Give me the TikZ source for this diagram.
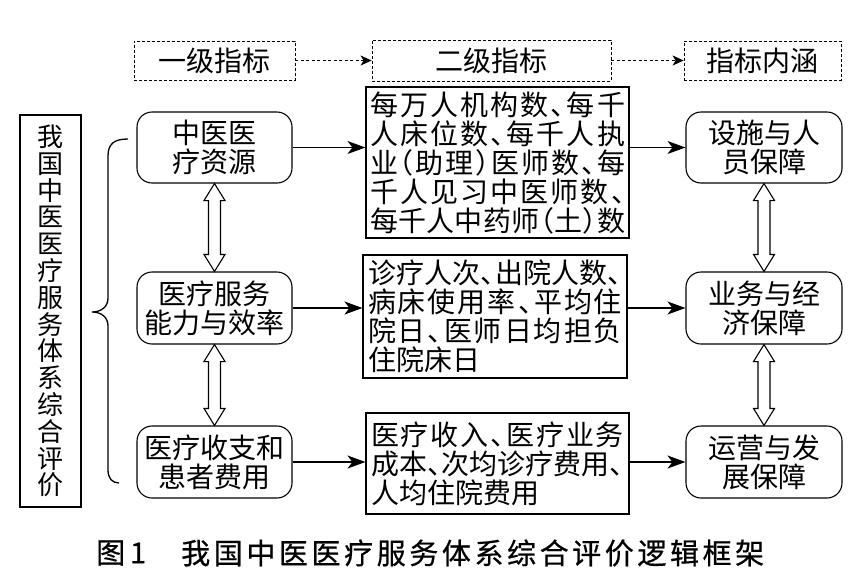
\documentclass[tikz,border=0pt]{standalone}
\usepackage{fontspec}
\usetikzlibrary{arrows.meta,calc}
\newfontfamily\cjk{Noto Sans CJK SC}
\newfontfamily\cjkcap{Noto Sans CJK SC}[FakeBold=0.6]
% half-width punctuation
\newcommand\dun{\makebox[0.5em][l]{、}}
\newcommand\lpar{\makebox[0.5em][r]{（}}
\newcommand\rpar{\makebox[0.5em][l]{）}}
% justify a line of CJK characters to a given width
\def\jfyEnd{JFYEND}
\newcommand\jfy[2]{\makebox[#1][s]{\jfyA#2\jfyEnd}}
\def\jfyA#1{#1\futurelet\jfyNext\jfyB}
\def\jfyB{\ifx\jfyNext\jfyEnd\expandafter\jfyStop\else\hfil\expandafter\jfyA\fi}
\def\jfyStop\jfyEnd{}
\tikzset{
  every node/.style={font=\cjk\fontsize{28}{29}\selectfont, inner sep=0pt},
  dashbox/.style={draw, densely dashed, line width=0.8pt, minimum height=39pt},
  roundbox/.style={draw, line width=1.1pt, rounded corners=15pt, minimum width=155pt, minimum height=71pt, align=center},
  midbox/.style={draw, line width=1.1pt, align=left},
  arr/.style={line width=1.1pt, -{Stealth[length=18pt,width=13pt,inset=5pt]}},
  darr/.style={line width=0.9pt, dash pattern=on 3pt off 2.5pt, -{Stealth[length=11pt,width=10pt,inset=3pt]}},
  harrow/.style={draw, line width=1.1pt, fill=white, line join=miter},
  bracepath/.style={line width=1.3pt},
  captext/.style={anchor=west, font=\cjkcap\fontsize{29}{30}\selectfont}
}
\newcommand\hollowarr[2]{\draw[harrow] (#1) -- ($(#1)+(10.5,17)$) -- ($(#1)+(6,17)$) -- ($(#2)+(6,-17)$) -- ($(#2)+(10.5,-17)$) -- (#2) -- ($(#2)+(-10.5,-17)$) -- ($(#2)+(-6,-17)$) -- ($(#1)+(-6,17)$) -- ($(#1)+(-10.5,17)$) -- cycle;}
\begin{document}
\begin{tikzpicture}[x=1pt,y=-1pt]
\useasboundingbox (0,0) rectangle (861,576);
% header labels
\node[dashbox, minimum width=161pt] (t1) at (214.5,60.5) {一级指标};
\node[dashbox, minimum width=239pt, minimum height=41pt] (t2) at (491.5,60.5) {二级指标};
\node[dashbox, minimum width=157pt] (t3) at (762.5,60.5) {指标内涵};
\draw[darr] (t1.east) -- (t2.west);
\draw[darr] (t2.east) -- (t3.west);
% left vertical title
\node[draw, line width=1.1pt, minimum width=61pt, minimum height=392pt, align=center,
      font=\cjk\fontsize{26}{26.8}\selectfont] (L) at (50.5,311)
  {我\\国\\中\\医\\医\\疗\\服\\务\\体\\系\\综\\合\\评\\价};
% brace
\draw[bracepath] (128,139) .. controls (114,139) and (108,144) .. (108,156)
  -- (108,298) .. controls (108,307) and (101,312) .. (92,312)
  .. controls (101,312) and (108,317) .. (108,326)
  -- (108,470) .. controls (108,478) and (112,483) .. (119,483);
% first-level nodes
\node[roundbox] (A) at (214.5,147.5) {中医医\\疗资源};
\node[roundbox, minimum height=72pt] (B) at (214.5,308) {医疗服务\\能力与效率};
\node[roundbox, minimum height=72pt] (C) at (214.5,462) {医疗收支和\\患者费用};
% second-level boxes
\node[midbox, minimum width=263pt, minimum height=151pt] (M1) at (497.5,162.5)
  {\jfy{255pt}{每万人机构数\dun 每千}\\
   \jfy{255pt}{人床位数\dun 每千人执}\\
   \jfy{255pt}{业\lpar 助理\rpar 医师数\dun 每}\\
   \jfy{255pt}{千人见习中医师数\dun}\\
   \jfy{255pt}{每千人中药师\lpar 土\rpar 数}};
\node[midbox, minimum width=264pt, minimum height=123pt] (M2) at (495,316.5)
  {\jfy{254pt}{诊疗人次\dun 出院人数\dun}\\
   \jfy{254pt}{病床使用率\dun 平均住}\\
   \jfy{254pt}{院日\dun 医师日均担负}\\
   \makebox[254pt][l]{住院床日}};
\node[midbox, minimum width=263pt, minimum height=101pt] (M3) at (497.5,463.5)
  {\jfy{253pt}{医疗收入\dun 医疗业务}\\
   \jfy{253pt}{成本\dun 次均诊疗费用\dun}\\
   \makebox[253pt][l]{人均住院费用}};
% right-column nodes
\node[roundbox, minimum width=156pt] (R1) at (764,147.5) {设施与人\\员保障};
\node[roundbox, minimum width=156pt, minimum height=72pt] (R2) at (764,308) {业务与经\\济保障};
\node[roundbox, minimum width=156pt, minimum height=72pt] (R3) at (764,462) {运营与发\\展保障};
% arrows
\draw[arr] (A.east) -- (A.east -| M1.west);
\draw[arr] (B.east) -- (B.east -| M2.west);
\draw[arr] (C.east) -- (C.east -| M3.west);
\draw[arr] (R1.west -| M1.east) -- (R1.west);
\draw[arr] (R2.west -| M2.east) -- (R2.west);
\draw[arr] (R3.west -| M3.east) -- (R3.west);
% hollow double arrows
\hollowarr{A.south}{B.north}
\hollowarr{B.south}{C.north}
\hollowarr{R1.south}{R2.north}
\hollowarr{R2.south}{R3.north}
% caption
\node[captext] (cap1) at (96,553) {图\,1};
\node[captext] (cap2) at (181,553)
  {\jfy{583pt}{我国中医医疗服务体系综合评价逻辑框架}};
\end{tikzpicture}
\end{document}
